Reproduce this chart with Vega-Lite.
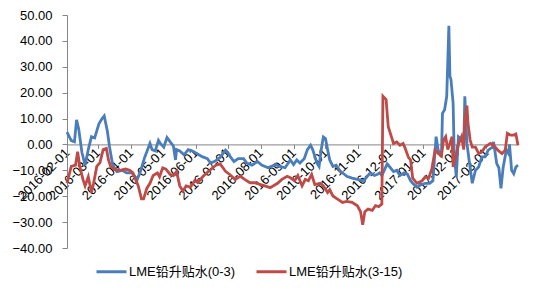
{
  "$schema": "https://vega.github.io/schema/vega-lite/v6.json",
  "autosize": "none",
  "width": 451,
  "height": 233,
  "padding": {"left": 67, "top": 15, "right": 32, "bottom": 52},
  "background": "white",
  "config": {"view": {"stroke": null}, "font": "Liberation Sans"},
  "data": {"values": [
    {"d":"2016-02-01","s":"A","v":4.8},{"d":"2016-02-05","s":"A","v":1.5},{"d":"2016-02-08","s":"A","v":1.0},{"d":"2016-02-10","s":"A","v":9.5},{"d":"2016-02-12","s":"A","v":6},{"d":"2016-02-15","s":"A","v":-3},{"d":"2016-02-18","s":"A","v":-8},{"d":"2016-02-21","s":"A","v":-2},{"d":"2016-02-24","s":"A","v":3},{"d":"2016-02-27","s":"A","v":2.5},
    {"d":"2016-03-02","s":"A","v":8},{"d":"2016-03-05","s":"A","v":10},{"d":"2016-03-07","s":"A","v":11},{"d":"2016-03-10","s":"A","v":5},{"d":"2016-03-12","s":"A","v":-1},{"d":"2016-03-15","s":"A","v":-8},{"d":"2016-03-19","s":"A","v":-10.5},{"d":"2016-03-24","s":"A","v":-10},{"d":"2016-03-28","s":"A","v":-11},
    {"d":"2016-04-02","s":"A","v":-11},{"d":"2016-04-07","s":"A","v":-13.5},{"d":"2016-04-10","s":"A","v":-10.5},{"d":"2016-04-14","s":"A","v":-5},{"d":"2016-04-19","s":"A","v":0.4},{"d":"2016-04-21","s":"A","v":-2},{"d":"2016-04-24","s":"A","v":-2.5},{"d":"2016-04-27","s":"A","v":1.6},{"d":"2016-04-29","s":"A","v":0.3},
    {"d":"2016-05-02","s":"A","v":-1},{"d":"2016-05-05","s":"A","v":2.7},{"d":"2016-05-08","s":"A","v":1},{"d":"2016-05-11","s":"A","v":-0.5},{"d":"2016-05-13","s":"A","v":-6},{"d":"2016-05-14","s":"A","v":-2},{"d":"2016-05-17","s":"A","v":-2.5},{"d":"2016-05-21","s":"A","v":-4},{"d":"2016-05-25","s":"A","v":-2},{"d":"2016-05-29","s":"A","v":-2.5},
    {"d":"2016-06-02","s":"A","v":-3.5},{"d":"2016-06-07","s":"A","v":-4.7},{"d":"2016-06-12","s":"A","v":-5.5},{"d":"2016-06-15","s":"A","v":-7.2},{"d":"2016-06-19","s":"A","v":-6.5},{"d":"2016-06-24","s":"A","v":-5},{"d":"2016-06-29","s":"A","v":-2.2},
    {"d":"2016-07-01","s":"A","v":-3},{"d":"2016-07-04","s":"A","v":-5},{"d":"2016-07-07","s":"A","v":-6.6},{"d":"2016-07-11","s":"A","v":-5.5},{"d":"2016-07-16","s":"A","v":-5.5},{"d":"2016-07-19","s":"A","v":-7.2},{"d":"2016-07-24","s":"A","v":-8},{"d":"2016-07-29","s":"A","v":-6.6},
    {"d":"2016-08-02","s":"A","v":-8},{"d":"2016-08-08","s":"A","v":-9},{"d":"2016-08-15","s":"A","v":-7.8},{"d":"2016-08-19","s":"A","v":-8.5},{"d":"2016-08-24","s":"A","v":-9},{"d":"2016-08-29","s":"A","v":-6},
    {"d":"2016-09-01","s":"A","v":-7.8},{"d":"2016-09-04","s":"A","v":-6},{"d":"2016-09-07","s":"A","v":-7.2},{"d":"2016-09-11","s":"A","v":-5.5},{"d":"2016-09-14","s":"A","v":-2},{"d":"2016-09-17","s":"A","v":-0.3},{"d":"2016-09-19","s":"A","v":-2},{"d":"2016-09-23","s":"A","v":-7.2},{"d":"2016-09-25","s":"A","v":-8.5},{"d":"2016-09-27","s":"A","v":-2},{"d":"2016-09-29","s":"A","v":2.9},
    {"d":"2016-10-01","s":"A","v":2.3},{"d":"2016-10-03","s":"A","v":-2},{"d":"2016-10-05","s":"A","v":-6},{"d":"2016-10-08","s":"A","v":-8.5},{"d":"2016-10-11","s":"A","v":-8},{"d":"2016-10-15","s":"A","v":-10.4},{"d":"2016-10-19","s":"A","v":-11.6},{"d":"2016-10-21","s":"A","v":-12.3},{"d":"2016-10-26","s":"A","v":-13},{"d":"2016-10-31","s":"A","v":-13.5},
    {"d":"2016-11-05","s":"A","v":-14},{"d":"2016-11-07","s":"A","v":-13.5},{"d":"2016-11-12","s":"A","v":-11},{"d":"2016-11-16","s":"A","v":-12},{"d":"2016-11-19","s":"A","v":-11.5},{"d":"2016-11-21","s":"A","v":-11},{"d":"2016-11-23","s":"A","v":-12},{"d":"2016-11-28","s":"A","v":-7.5},
    {"d":"2016-12-01","s":"A","v":-9},{"d":"2016-12-04","s":"A","v":-10.5},{"d":"2016-12-07","s":"A","v":-10},{"d":"2016-12-10","s":"A","v":-12},{"d":"2016-12-14","s":"A","v":-11},{"d":"2016-12-17","s":"A","v":-11.5},{"d":"2016-12-20","s":"A","v":-14},{"d":"2016-12-22","s":"A","v":-15},{"d":"2016-12-26","s":"A","v":-16.5},{"d":"2016-12-30","s":"A","v":-15.5},
    {"d":"2017-01-03","s":"A","v":-15},{"d":"2017-01-07","s":"A","v":-15},{"d":"2017-01-10","s":"A","v":-14},{"d":"2017-01-13","s":"A","v":3},{"d":"2017-01-15","s":"A","v":-2.2},{"d":"2017-01-18","s":"A","v":-4.8},{"d":"2017-01-19","s":"A","v":12},{"d":"2017-01-21","s":"A","v":13.4},{"d":"2017-01-23","s":"A","v":18.6},{"d":"2017-01-25","s":"A","v":45.8},{"d":"2017-01-26","s":"A","v":26.4},{"d":"2017-01-27","s":"A","v":25},{"d":"2017-01-29","s":"A","v":16},{"d":"2017-01-30","s":"A","v":-3.5},
    {"d":"2017-02-01","s":"A","v":-12.6},{"d":"2017-02-03","s":"A","v":3},{"d":"2017-02-07","s":"A","v":1.7},{"d":"2017-02-08","s":"A","v":-1},{"d":"2017-02-09","s":"A","v":18.6},{"d":"2017-02-11","s":"A","v":0.4},{"d":"2017-02-13","s":"A","v":-6},{"d":"2017-02-16","s":"A","v":-15},{"d":"2017-02-19","s":"A","v":-10},{"d":"2017-02-22","s":"A","v":-8.7},{"d":"2017-02-25","s":"A","v":-4.8},{"d":"2017-02-28","s":"A","v":-4.8},
    {"d":"2017-03-03","s":"A","v":-2.2},{"d":"2017-03-07","s":"A","v":-1},{"d":"2017-03-08","s":"A","v":1},{"d":"2017-03-11","s":"A","v":-7.4},{"d":"2017-03-13","s":"A","v":-9},{"d":"2017-03-15","s":"A","v":-17},{"d":"2017-03-17","s":"A","v":-9},{"d":"2017-03-20","s":"A","v":-2.2},{"d":"2017-03-22","s":"A","v":-3.5},{"d":"2017-03-23","s":"A","v":0},{"d":"2017-03-25","s":"A","v":-10},{"d":"2017-03-27","s":"A","v":-11.3},{"d":"2017-03-29","s":"A","v":-8.7},{"d":"2017-03-31","s":"A","v":-8},

    {"d":"2016-02-01","s":"B","v":-15},{"d":"2016-02-05","s":"B","v":-8.5},{"d":"2016-02-09","s":"B","v":-8},{"d":"2016-02-11","s":"B","v":-2.8},{"d":"2016-02-13","s":"B","v":-8.5},{"d":"2016-02-16","s":"B","v":-13.5},{"d":"2016-02-18","s":"B","v":-16},{"d":"2016-02-21","s":"B","v":-12.5},{"d":"2016-02-24","s":"B","v":-18.6},{"d":"2016-02-26","s":"B","v":-15},{"d":"2016-02-29","s":"B","v":-8.5},
    {"d":"2016-03-03","s":"B","v":-7},{"d":"2016-03-06","s":"B","v":-2},{"d":"2016-03-09","s":"B","v":-1.5},{"d":"2016-03-11","s":"B","v":-6},{"d":"2016-03-13","s":"B","v":-8.5},{"d":"2016-03-17","s":"B","v":-9.7},{"d":"2016-03-22","s":"B","v":-10},{"d":"2016-03-27","s":"B","v":-9.5},{"d":"2016-03-31","s":"B","v":-10},
    {"d":"2016-04-03","s":"B","v":-11},{"d":"2016-04-08","s":"B","v":-16},{"d":"2016-04-11","s":"B","v":-21},{"d":"2016-04-13","s":"B","v":-21},{"d":"2016-04-16","s":"B","v":-17},{"d":"2016-04-19","s":"B","v":-15},{"d":"2016-04-22","s":"B","v":-12},{"d":"2016-04-26","s":"B","v":-11},{"d":"2016-04-28","s":"B","v":-12.5},
    {"d":"2016-05-01","s":"B","v":-9},{"d":"2016-05-04","s":"B","v":-9.5},{"d":"2016-05-08","s":"B","v":-11.6},{"d":"2016-05-11","s":"B","v":-12},{"d":"2016-05-14","s":"B","v":-10.4},{"d":"2016-05-17","s":"B","v":-16},{"d":"2016-05-20","s":"B","v":-18},{"d":"2016-05-23","s":"B","v":-16},{"d":"2016-05-27","s":"B","v":-16.5},{"d":"2016-05-31","s":"B","v":-14},
    {"d":"2016-06-03","s":"B","v":-14.8},{"d":"2016-06-08","s":"B","v":-12.3},{"d":"2016-06-13","s":"B","v":-10.4},{"d":"2016-06-17","s":"B","v":-9},{"d":"2016-06-20","s":"B","v":-8},{"d":"2016-06-24","s":"B","v":-7.5},{"d":"2016-06-29","s":"B","v":-10.4},
    {"d":"2016-07-03","s":"B","v":-11.6},{"d":"2016-07-08","s":"B","v":-13.5},{"d":"2016-07-13","s":"B","v":-12.3},{"d":"2016-07-17","s":"B","v":-13.5},{"d":"2016-07-22","s":"B","v":-14.8},{"d":"2016-07-27","s":"B","v":-14.8},
    {"d":"2016-08-01","s":"B","v":-15.5},{"d":"2016-08-05","s":"B","v":-16},{"d":"2016-08-10","s":"B","v":-16.7},{"d":"2016-08-17","s":"B","v":-15},{"d":"2016-08-21","s":"B","v":-13.5},{"d":"2016-08-26","s":"B","v":-12.3},{"d":"2016-08-29","s":"B","v":-12.9},
    {"d":"2016-09-02","s":"B","v":-14},{"d":"2016-09-05","s":"B","v":-12},{"d":"2016-09-09","s":"B","v":-16},{"d":"2016-09-12","s":"B","v":-13.5},{"d":"2016-09-15","s":"B","v":-14},{"d":"2016-09-18","s":"B","v":-11.6},{"d":"2016-09-21","s":"B","v":-15.5},{"d":"2016-09-26","s":"B","v":-15},{"d":"2016-09-29","s":"B","v":-16},
    {"d":"2016-10-03","s":"B","v":-18.6},{"d":"2016-10-05","s":"B","v":-17.5},{"d":"2016-10-08","s":"B","v":-19.9},{"d":"2016-10-12","s":"B","v":-21},{"d":"2016-10-17","s":"B","v":-22.4},{"d":"2016-10-21","s":"B","v":-22},{"d":"2016-10-26","s":"B","v":-22.4},{"d":"2016-10-31","s":"B","v":-23.7},
    {"d":"2016-11-03","s":"B","v":-26},{"d":"2016-11-05","s":"B","v":-31},{"d":"2016-11-07","s":"B","v":-26},{"d":"2016-11-10","s":"B","v":-25},{"d":"2016-11-14","s":"B","v":-25.5},{"d":"2016-11-17","s":"B","v":-23.6},{"d":"2016-11-20","s":"B","v":-24},{"d":"2016-11-23","s":"B","v":-23},{"d":"2016-11-24","s":"B","v":18.6},{"d":"2016-11-27","s":"B","v":17.3},{"d":"2016-11-29","s":"B","v":6.9},
    {"d":"2016-12-01","s":"B","v":4.3},{"d":"2016-12-04","s":"B","v":0.4},{"d":"2016-12-07","s":"B","v":1},{"d":"2016-12-10","s":"B","v":-0.3},{"d":"2016-12-13","s":"B","v":0.4},{"d":"2016-12-15","s":"B","v":-1.6},{"d":"2016-12-18","s":"B","v":-5},{"d":"2016-12-20","s":"B","v":-6},{"d":"2016-12-22","s":"B","v":-13},{"d":"2016-12-26","s":"B","v":-15},{"d":"2016-12-31","s":"B","v":-14},
    {"d":"2017-01-03","s":"B","v":-12.5},{"d":"2017-01-06","s":"B","v":-13},{"d":"2017-01-09","s":"B","v":-9.5},{"d":"2017-01-12","s":"B","v":-2.2},{"d":"2017-01-15","s":"B","v":-3.5},{"d":"2017-01-18","s":"B","v":-4.5},{"d":"2017-01-20","s":"B","v":1.7},{"d":"2017-01-22","s":"B","v":3},{"d":"2017-01-24","s":"B","v":-2},{"d":"2017-01-26","s":"B","v":0.4},{"d":"2017-01-28","s":"B","v":3},{"d":"2017-01-29","s":"B","v":-8.7},
    {"d":"2017-02-01","s":"B","v":-3.5},{"d":"2017-02-03","s":"B","v":0},{"d":"2017-02-06","s":"B","v":3},{"d":"2017-02-08","s":"B","v":-2},{"d":"2017-02-09","s":"B","v":9.5},{"d":"2017-02-11","s":"B","v":15},{"d":"2017-02-12","s":"B","v":8},{"d":"2017-02-14","s":"B","v":1.7},{"d":"2017-02-16","s":"B","v":-1},{"d":"2017-02-19","s":"B","v":-1},{"d":"2017-02-22","s":"B","v":-3.5},{"d":"2017-02-25","s":"B","v":-3},{"d":"2017-02-28","s":"B","v":-1},
    {"d":"2017-03-05","s":"B","v":0.4},{"d":"2017-03-08","s":"B","v":-0.3},{"d":"2017-03-12","s":"B","v":-2.2},{"d":"2017-03-16","s":"B","v":-3.5},{"d":"2017-03-19","s":"B","v":-2.2},{"d":"2017-03-21","s":"B","v":4.3},{"d":"2017-03-24","s":"B","v":3.6},{"d":"2017-03-27","s":"B","v":3.6},{"d":"2017-03-29","s":"B","v":4},{"d":"2017-03-31","s":"B","v":-0.3}
  ]},
  "mark": {"type": "line", "strokeWidth": 2.8, "interpolate": "linear"},
  "encoding": {
    "x": {
      "field": "d", "type": "temporal", "timeUnit": "utcyearmonthdate", "title": null,
      "scale": {"domain": [{"year": 2016, "month": 2, "date": 1, "utc": true}, {"year": 2017, "month": 3, "date": 31, "utc": true}]},
      "axis": {
        "offset": -103.6, "format": "%Y-%m-%d", "tickCount": {"interval": "month", "step": 1},
        "labelAngle": -45, "labelAlign": "right", "labelBaseline": "middle", "labelPadding": 2,
        "labelFontSize": 13, "labelColor": "#000000", "labelFont": "Liberation Sans",
        "domainColor": "#868686", "tickColor": "#868686", "tickSize": 4, "grid": false, "labelOverlap": false, "labelFlush": false
      }
    },
    "y": {
      "field": "v", "type": "quantitative", "title": null,
      "scale": {"domain": [-40, 50], "nice": false, "zero": false},
      "axis": {
        "values": [-40, -30, -20, -10, 0, 10, 20, 30, 40, 50], "format": ".2f",
        "labelFontSize": 13, "labelColor": "#000000", "labelFont": "Liberation Sans", "labelPadding": 10,
        "domainColor": "#868686", "tickColor": "#868686", "tickSize": 5, "grid": false
      }
    },
    "color": {
      "field": "s", "type": "nominal",
      "scale": {"domain": ["A", "B"], "range": ["#4A7EBB", "#BE4B48"]},
      "legend": {
        "title": null, "orient": "none", "legendX": 28, "legendY": 240, "direction": "horizontal",
        "labelExpr": "datum.value == 'A' ? 'LME铅升贴水(0-3)' : 'LME铅升贴水(3-15)'",
        "symbolType": "stroke", "symbolSize": 900, "symbolStrokeWidth": 3,
        "labelFontSize": 13, "labelColor": "#000000", "labelFont": "Liberation Sans, Noto Sans CJK SC",
        "columnPadding": 14, "labelOffset": 1
      }
    }
  }
}
